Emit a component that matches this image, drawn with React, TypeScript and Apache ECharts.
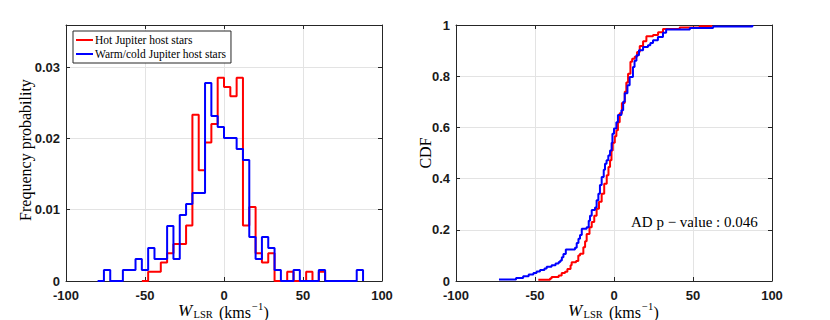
import React, { useEffect, useRef } from "react";
import * as echarts from "echarts";

// ---------- data ----------
const seriesNames = ["Hot Jupiter host stars", "Warm/cold Jupiter host stars"];
const binWidth = 4;

// Hot Jupiter host stars: counts per 4 km/s bin, first edge -52
const hotFirstEdge = -52;
const hotCounts = [0, 1, 1, 2, 3, 4, 4, 6, 18, 12, 15, 17, 22, 21, 20, 22, 6, 8, 3, 2, 3, 0, 0, 1, 0, 0, 1, 0, 1];

// Warm/cold Jupiter host stars: counts per 4 km/s bin, first edge -80
const warmFirstEdge = -80;
const warmCounts = [0, 1, 0, 0, 1, 1, 2, 1, 3, 2, 2, 5, 2, 6, 7, 8, 8, 18, 15, 14, 13, 13, 12, 11, 4, 2, 4, 3, 1, 0, 0, 1, 0, 0, 0, 1, 0, 0, 0, 0, 0, 1];

const hotCdfX = [-47.9, -40.5, -39.5, -35, -33.1, -31, -29.5, -27.5, -26.8, -24, -22.6, -21.5, -19.4, -18.3, -17.3, -15.5, -14.1, -12.5, -11, -9.5, -7.8, -6.2, -4.6, -3.5, -2.5, -1.6, -0.8, 0.5, 1.5, 2.5, 3.6, 5, 6.8, 7.8, 8.9, 10.4, 11.5, 13.1, 14.6, 16.3, 18.4, 20.5, 24.7, 27.9, 31, 41.6, 54.2, 61.6];
const hotCdfY = [0.005, 0.01, 0.016, 0.021, 0.031, 0.036, 0.047, 0.062, 0.073, 0.078, 0.1, 0.106, 0.132, 0.155, 0.184, 0.21, 0.23, 0.255, 0.282, 0.31, 0.341, 0.38, 0.413, 0.445, 0.472, 0.51, 0.54, 0.565, 0.589, 0.62, 0.655, 0.695, 0.739, 0.775, 0.81, 0.856, 0.868, 0.876, 0.895, 0.918, 0.937, 0.956, 0.961, 0.972, 0.984, 0.99, 0.995, 1.0];

const warmCdfX = [-72.8, -62, -57.5, -54, -51, -49, -46.8, -44, -42.6, -39.5, -37, -35, -34, -33, -32, -30.5, -24.7, -23.6, -22.5, -21.5, -20.4, -17.3, -16, -15.2, -14.1, -12, -11, -9.9, -8.9, -7.8, -6.5, -5.7, -4.7, -3.6, -2.5, -1.5, -1, 0, 1.5, 2.5, 4.7, 5.8, 6.8, 8.5, 9.9, 12, 13, 14.2, 15.8, 18.4, 21.5, 23, 24.7, 27.8, 31, 33, 48, 62.7, 87.6];
const warmCdfY = [0.006, 0.012, 0.019, 0.025, 0.031, 0.037, 0.043, 0.049, 0.056, 0.062, 0.068, 0.074, 0.08, 0.093, 0.105, 0.123, 0.13, 0.148, 0.165, 0.18, 0.204, 0.21, 0.235, 0.255, 0.277, 0.287, 0.315, 0.341, 0.375, 0.406, 0.435, 0.458, 0.472, 0.49, 0.51, 0.54, 0.575, 0.596, 0.62, 0.648, 0.667, 0.7, 0.733, 0.765, 0.797, 0.836, 0.86, 0.882, 0.901, 0.914, 0.921, 0.93, 0.94, 0.953, 0.97, 0.982, 0.988, 0.994, 1.0];

const xTicks = { min: -100, max: 100, interval: 50 };
const histYTicks = { min: 0, max: 0.0359, interval: 0.01 };
const cdfYTicks = { min: 0, max: 1, interval: 0.2 };
const adText = "AD p \u2212 value : 0.046";

// ---------- helpers ----------
function histSteps(firstEdge: number, counts: number[]) {
  const total = counts.reduce((a, b) => a + b, 0);
  const pts: number[][] = counts.map((c, i) => [firstEdge + i * binWidth, c / (total * binWidth)]);
  pts.push([firstEdge + counts.length * binWidth, 0]);
  return pts;
}
function zip(xs: number[], ys: number[]) {
  return xs.map((x, i) => [x, ys[i]]);
}

const RED = "#ff0000";
const BLUE = "#0000ff";
const AXIS = "#262626";
const GRID = "#e3e3e3";
const SERIF = "'Liberation Serif', 'DejaVu Serif', serif";
const SANS = "'Liberation Sans', Arial, sans-serif";

function txt(x: number, y: number, text: string, fontSize: number, extra: any = {}) {
  return {
    type: "text",
    x,
    y,
    style: {
      text,
      fontFamily: SERIF,
      fontSize,
      fill: "#000",
      align: "left",
      verticalAlign: "middle",
      ...extra,
    },
  };
}

// x-axis title "W_LSR (kms^-1)" assembled from separate pieces
function xTitle(cx: number) {
  const s = cx - 46;
  const y = 312.3;
  return {
    type: "group",
    children: [
      txt(s, 310.6, "W", 17, { fontStyle: "italic" }),
      txt(s + 15.5, 314.4, "LSR", 10.5),
      txt(s + 41, y, "(kms", 16),
      txt(s + 74, y - 6, "\u22121", 10.5),
      txt(s + 85.5, y, ")", 16),
    ],
  };
}

export default function App() {
  const ref = useRef<HTMLDivElement>(null);
  useEffect(() => {
    if (!ref.current) return;
    const chart = echarts.init(ref.current, undefined, { renderer: "svg" });

    const grids = [
      { left: 66, top: 25, width: 316, height: 256 },
      { left: 456, top: 25, width: 316, height: 256 },
    ];

    const tickLabel = { fontFamily: SANS, fontWeight: "bold" as const, fontSize: 13, color: "#1a1a1a" };

    const mkX = (gi: number, pos: "bottom" | "top") => ({
      gridIndex: gi,
      type: "value" as const,
      position: pos,
      ...xTicks,
      axisLine: { show: true, onZero: false, lineStyle: { color: AXIS, width: 1 } },
      axisTick: { show: true, inside: true, length: 4, lineStyle: { color: AXIS } },
      axisLabel: pos === "bottom" ? { ...tickLabel, margin: 8 } : { show: false },
      splitLine: { show: pos === "bottom", lineStyle: { color: GRID, width: 1 } },
    });
    const mkY = (gi: number, pos: "left" | "right", ticks: any) => ({
      gridIndex: gi,
      type: "value" as const,
      position: pos,
      ...ticks,
      axisLine: { show: true, onZero: false, lineStyle: { color: AXIS, width: 1 } },
      axisTick: { show: true, inside: true, length: 4, lineStyle: { color: AXIS } },
      axisLabel:
        pos === "left" ? { ...tickLabel, margin: 6, showMaxLabel: gi === 1 } : { show: false },
      splitLine: { show: pos === "left", lineStyle: { color: GRID, width: 1 } },
    });

    const lineSeries = (name: string, data: number[][], color: string, xi: number, yi: number) => ({
      name,
      type: "line" as const,
      step: "end" as const,
      data,
      xAxisIndex: xi,
      yAxisIndex: yi,
      symbol: "none",
      showSymbol: false,
      lineStyle: { color, width: 2 },
      itemStyle: { color },
      emphasis: { disabled: true },
      z: color === BLUE ? 3 : 2,
    });

    chart.setOption({
      animation: false,
      backgroundColor: "#fff",
      grid: grids,
      xAxis: [mkX(0, "bottom"), mkX(0, "top"), mkX(1, "bottom"), mkX(1, "top")],
      yAxis: [
        mkY(0, "left", histYTicks),
        mkY(0, "right", histYTicks),
        mkY(1, "left", cdfYTicks),
        mkY(1, "right", cdfYTicks),
      ],
      legend: {
        data: seriesNames,
        orient: "vertical",
        left: 73,
        top: 31,
        padding: [3, 5, 3, 3],
        itemGap: 2,
        itemWidth: 17,
        itemHeight: 2,
        icon: "rect",
        selectedMode: false,
        backgroundColor: "#fff",
        borderColor: AXIS,
        borderWidth: 1,
        borderRadius: 0,
        textStyle: { fontFamily: SERIF, fontSize: 11.5, color: "#000", padding: [0, 0, 0, -3] },
      },
      series: [
        lineSeries(seriesNames[0], histSteps(hotFirstEdge, hotCounts), RED, 0, 0),
        lineSeries(seriesNames[1], histSteps(warmFirstEdge, warmCounts), BLUE, 0, 0),
        lineSeries(seriesNames[0], zip(hotCdfX, hotCdfY), RED, 2, 2),
        lineSeries(seriesNames[1], zip(warmCdfX, warmCdfY), BLUE, 2, 2),
      ],
      graphic: [
        {
          type: "text",
          x: 25,
          y: 150,
          rotation: Math.PI / 2,
          style: {
            text: "Frequency probability",
            fontFamily: SERIF,
            fontSize: 16,
            fill: "#000",
            align: "center",
            verticalAlign: "middle",
          },
        },
        {
          type: "text",
          x: 425,
          y: 153,
          rotation: Math.PI / 2,
          style: {
            text: "CDF",
            fontFamily: SERIF,
            fontSize: 16,
            fill: "#000",
            align: "center",
            verticalAlign: "middle",
          },
        },
        xTitle(224),
        xTitle(614),
        txt(631, 222, adText, 15),
      ],
    });
    return () => chart.dispose();
  }, []);
  return (
    <div
      ref={ref}
      style={{ position: "absolute", left: 0, top: 0, width: 830, height: 320, background: "#fff" }}
    />
  );
}
